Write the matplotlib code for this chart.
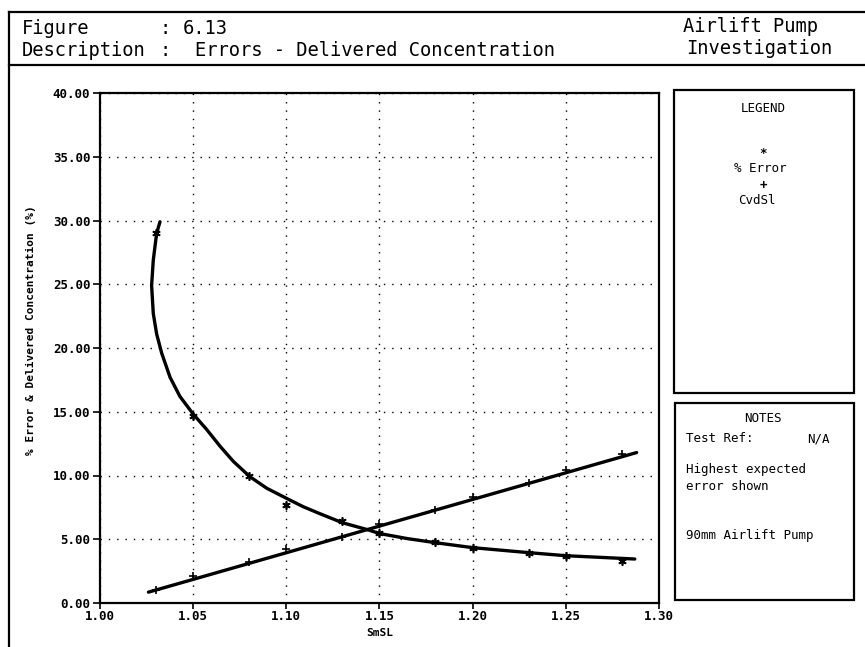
import matplotlib
matplotlib.use('Agg')
import matplotlib.pyplot as plt
import matplotlib.patches as patches

plt.rcParams['font.family'] = ['DejaVu Sans Mono']

# Values
# measured points, % Error (asterisks)
err_x = [1.03, 1.05, 1.08, 1.10, 1.13, 1.15, 1.18, 1.20, 1.23, 1.25, 1.28]
err_y = [29.0, 14.7, 10.0, 7.7, 6.4, 5.5, 4.8, 4.3, 3.9, 3.7, 3.3]

# fitted % Error curve
err_fit_x = [1.0322, 1.0304, 1.0286, 1.0277, 1.0286, 1.0304, 1.0331, 1.0376,
             1.0429, 1.0501, 1.0573, 1.0644, 1.0716, 1.0805, 1.0895, 1.1002,
             1.1091, 1.1181, 1.1300, 1.1443, 1.1500, 1.1650, 1.1800, 1.2000,
             1.2300, 1.2500, 1.2870]
err_fit_y = [29.9, 29.0, 26.9, 24.9, 22.7, 21.1, 19.6, 17.7,
             16.2, 14.8, 13.6, 12.3, 11.1, 9.9, 9.0, 8.2,
             7.55, 7.0, 6.3, 5.72, 5.45, 5.05, 4.73, 4.34,
             3.95, 3.71, 3.45]

# measured points, CvdSl (plus signs)
cvd_x = [1.03, 1.05, 1.08, 1.10, 1.13, 1.15, 1.18, 1.20, 1.23, 1.25, 1.28]
cvd_y = [1.0, 2.1, 3.2, 4.2, 5.2, 6.2, 7.3, 8.3, 9.4, 10.4, 11.7]

# fitted CvdSl line end points
cvd_fit_x = [1.026, 1.288]
cvd_fit_y = [0.85, 11.8]

x_ticks = [1.00, 1.05, 1.10, 1.15, 1.20, 1.25, 1.30]
y_ticks = [0, 5, 10, 15, 20, 25, 30, 35, 40]

W, H = 865, 647
fig = plt.figure(figsize=(W / 100, H / 100), dpi=100)

# overlay in pixel coordinates for the page frame and boxes
page = fig.add_axes([0, 0, 1, 1])
page.set_xlim(0, W)
page.set_ylim(H, 0)
page.axis('off')

lw = 1.6
page.plot([9, 9], [12, H], color='black', lw=lw)
page.plot([9, W], [12, 12], color='black', lw=lw)
page.plot([9, W], [65, 65], color='black', lw=lw)
page.add_patch(patches.Rectangle((674, 90), 180, 303, fill=False, ec='black', lw=lw))
page.add_patch(patches.Rectangle((675, 403), 179, 197, fill=False, ec='black', lw=lw))

hfs = 13.5
page.text(22, 29, 'Figure', fontsize=hfs, va='center')
page.text(160, 29, ':', fontsize=hfs, va='center')
page.text(183, 29, '6.13', fontsize=hfs, va='center')
page.text(22, 51, 'Description', fontsize=hfs, va='center')
page.text(160, 51, ':', fontsize=hfs, va='center')
page.text(195, 51, 'Errors - Delivered Concentration', fontsize=hfs, va='center')
page.text(683, 27, 'Airlift Pump', fontsize=hfs, va='center')
page.text(686, 49, 'Investigation', fontsize=hfs, va='center')

lfs = 9
page.text(763, 109, 'LEGEND', fontsize=lfs, ha='center', va='center')
page.text(763, 153, '*', fontsize=lfs, ha='center', va='center', fontweight='bold')
page.text(734, 168, '% Error', fontsize=lfs, va='center')
page.text(763, 186, '+', fontsize=lfs, ha='center', va='center', fontweight='bold')
page.text(738, 201, 'CvdSl', fontsize=lfs, va='center')

page.text(763, 418, 'NOTES', fontsize=lfs, ha='center', va='center')
page.text(686, 439, 'Test Ref:', fontsize=lfs, va='center')
page.text(807, 439, 'N/A', fontsize=lfs, va='center')
page.text(686, 470, 'Highest expected', fontsize=lfs, va='center')
page.text(686, 487, 'error shown', fontsize=lfs, va='center')
page.text(686, 535, '90mm Airlift Pump', fontsize=lfs, va='center')

# x axis title, placed on the page
page.text(380, 633, 'SmSL', fontsize=8, fontweight='bold', ha='center', va='center')

# main chart
ax = fig.add_axes([100 / W, 1 - 603 / H, 559 / W, 510 / H])
ax.plot(err_fit_x, err_fit_y, color='black', lw=2.4, solid_capstyle='round')
ax.plot(cvd_fit_x, cvd_fit_y, color='black', lw=2.4, solid_capstyle='round')
ax.plot(err_x, err_y, linestyle='none', marker=(6, 2, 0), ms=6, mew=1.2, color='black')
ax.plot(cvd_x, cvd_y, linestyle='none', marker='+', ms=6, mew=1.2, color='black')

ax.set_xlim(1.0, 1.3)
ax.set_ylim(0, 40)
ax.set_xticks(x_ticks)
ax.set_yticks(y_ticks)
ax.set_xticklabels(['%.2f' % v for v in x_ticks])
ax.set_yticklabels(['%.2f' % v for v in y_ticks])
ax.tick_params(axis='both', direction='out', length=5, width=1.2, labelsize=9, pad=2)
ax.tick_params(axis='x', length=4, pad=1)
for lab in ax.get_xticklabels() + ax.get_yticklabels():
    lab.set_fontweight('bold')
ax.grid(True, color='black', linestyle=(0, (1, 5)), linewidth=1)
for s in ax.spines.values():
    s.set_linewidth(1.6)

ax.set_ylabel('% Error & Delivered Concentration (%)', fontsize=8, fontweight='bold')
ax.yaxis.set_label_coords(-0.115, 0.535)

fig.savefig('out.png', dpi=100)
